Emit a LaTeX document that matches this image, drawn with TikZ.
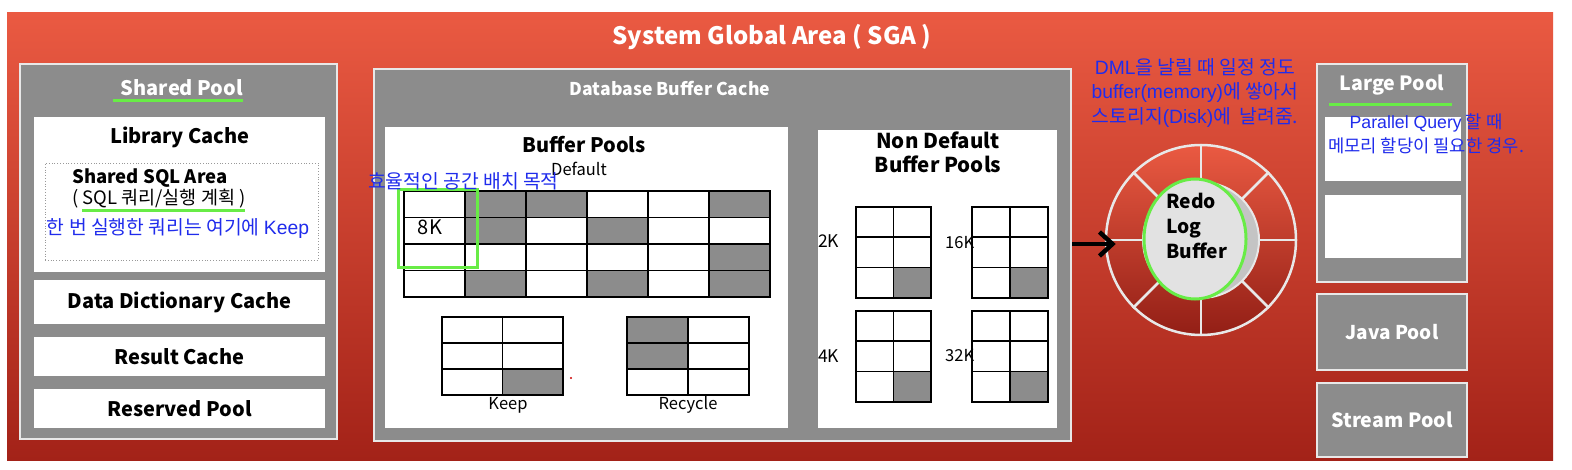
\documentclass[tikz,border=0pt]{standalone}
\usepackage{fontspec}
\setmainfont{Noto Sans CJK KR}
\newfontfamily\krfont{Noto Sans CJK KR}
\newfontfamily\latfont{Liberation Sans}
\usetikzlibrary{arrows.meta,positioning,shapes.geometric}

\definecolor{sgatop}{RGB}{234,90,66}
\definecolor{sgabottom}{RGB}{163,34,24}
\definecolor{poolgray}{RGB}{140,140,140}
\definecolor{rimwhite}{RGB}{232,232,232}
\definecolor{markgreen}{RGB}{104,236,70}
\definecolor{noteblue}{RGB}{32,44,236}
\definecolor{hubgray}{RGB}{196,196,196}
\definecolor{coregray}{RGB}{226,226,226}

\tikzset{
  sgabg/.style={top color=sgatop, bottom color=sgabottom, draw=none, inner sep=0pt},
  titlelabel/.style={text=white, font=\bfseries\fontsize{24}{27}\selectfont},
  poolbox/.style={fill=poolgray, draw=rimwhite, line width=2pt, inner sep=0pt},
  whitebox/.style={fill=white, draw=none, inner sep=0pt},
  boxlabel/.style={font=\bfseries\fontsize{20}{22}\selectfont, inner sep=1pt},
  poollabel/.style={boxlabel, text=white},
  smalllabel/.style={font=\fontsize{16.5}{18}\selectfont, inner sep=1pt},
  note/.style={text=noteblue, font=\krfont\fontsize{19.3}{24.5}\selectfont, align=center, inner sep=0pt},
  greenline/.style={draw=markgreen, line width=3pt},
  gridline/.style={draw=black, line width=1.6pt, line cap=rect},
  rimline/.style={draw=rimwhite, line width=2.5pt},
  bigarrow/.style={draw=black, line width=4.5pt, -{Straight Barb[length=13pt,width=24pt]}},
}

% grid of buffer cells: x0, y0, cols, rows, cell w, cell h, gray cells c/r
\newcommand\drawcells[7]{%
  \foreach \c/\r in {#7}
    \fill[poolgray] ({#1+\c*#5},{#2+\r*#6}) rectangle ++(#5,#6);
  \foreach \i in {0,...,#3}
    \draw[gridline] ({#1+\i*#5},#2) -- ++(0,{#4*#6});
  \foreach \j in {0,...,#4}
    \draw[gridline] (#1,{#2+\j*#6}) -- ++({#3*#5},0);
}

\begin{document}
\begin{tikzpicture}[x=1pt,y=-1pt]
\useasboundingbox (0,0) rectangle (1572,470);
\fill[white] (0,0) rectangle (1572,470);

% SGA
\node[sgabg, minimum width=1546pt, minimum height=447pt] (sga) at (780,236.5) {};
\node[titlelabel] (sgatitle) at (772,37) {System Global Area ( SGA )};

% Shared Pool
\node[poolbox, minimum width=317pt, minimum height=375pt] (shared) at (178.5,251.5) {};
\node[poollabel] (sharedlabel) at (182,88) {Shared Pool};
\draw[greenline] (113,101) -- (243,101);
\node[whitebox, minimum width=291pt, minimum height=155pt] (library) at (179.5,194.5) {};
\node[boxlabel] (librarylabel) at (180,137) {Library Cache};
\node[draw=gray!80, dotted, line width=0.8pt, minimum width=273pt, minimum height=97pt] (sqlarea) at (181.5,211.5) {};
\node[boxlabel, font=\bfseries\fontsize{18.5}{21}\selectfont, anchor=west] (sqllabel) at (71,178) {Shared SQL Area};
\node[smalllabel, font=\fontsize{18.5}{20}\selectfont, anchor=west] (sqlsub) at (71,199) {( SQL 쿼리/실행 계획 )};
\draw[greenline] (82,211) -- (245,211);
\node[note] (sqlnote) at (178,229) {한 번 실행한 쿼리는 여기에 {\latfont Keep}};
\node[whitebox, minimum width=291pt, minimum height=44pt] (dictionary) at (179.5,302) {};
\node[boxlabel] at (dictionary) {Data Dictionary Cache};
\node[whitebox, minimum width=291pt, minimum height=39pt] (result) at (179.5,356.5) {};
\node[boxlabel] at (result) {Result Cache};
\node[whitebox, minimum width=291pt, minimum height=39pt] (reserved) at (179.5,408.5) {};
\node[boxlabel] at (reserved) {Reserved Pool};

% Database Buffer Cache
\node[poolbox, minimum width=697pt, minimum height=372pt] (dbc) at (722.5,255) {};
\node[poollabel, font=\bfseries\fontsize{17.6}{20}\selectfont] (dbclabel) at (670,88) {Database Buffer Cache};
\node[whitebox, minimum width=403pt, minimum height=301pt] (bufpools) at (586.5,277.5) {};
\node[boxlabel] (bufpoolslabel) at (584,145) {Buffer Pools};
\node[smalllabel] (defaultlabel) at (579,169) {Default};
\drawcells{404}{191}{6}{4}{61}{26.5}{1/0,2/0,5/0,1/1,3/1,5/2,1/3,3/3,5/3}
\node[smalllabel, font=\fontsize{20}{22}\selectfont] (eightk) at (430,227) {8K};
\draw[greenline] (398,190) rectangle (477,268);
\node[note, anchor=west] (placenote) at (368,181) {효율적인 공간 배치 목적};
\drawcells{442}{317}{2}{3}{60.5}{26}{1/2}
\node[smalllabel] (keeplabel) at (508,405) {Keep};
\drawcells{627}{317}{2}{3}{61}{26}{0/0,0/1}
\node[smalllabel] (recyclelabel) at (688,405) {Recycle};
\fill[red!80!black] (571,378) circle (1.2pt);

% Non Default Buffer Pools
\node[whitebox, minimum width=239pt, minimum height=298pt] (nondefault) at (937.5,279) {};
\node[boxlabel, align=center, font=\bfseries\fontsize{20.5}{24}\selectfont] (nondefaultlabel) at (938,152) {Non Default\\Buffer Pools};
\drawcells{856}{207}{2}{3}{37.5}{30.3}{1/2}
\drawcells{972}{207}{2}{3}{38}{30.3}{1/2}
\drawcells{856}{311}{2}{3}{37.5}{30.3}{1/2}
\drawcells{972}{311}{2}{3}{38}{30.3}{1/2}
\node[smalllabel, font=\fontsize{17.5}{19}\selectfont, anchor=west, inner sep=0pt] (twok) at (818,241) {2K};
\node[smalllabel, anchor=west, inner sep=0pt] (sixteenk) at (945,243) {16K};
\node[smalllabel, font=\fontsize{17.5}{19}\selectfont, anchor=west, inner sep=0pt] (fourk) at (818,356) {4K};
\node[smalllabel, anchor=west, inner sep=0pt] (thirtytwok) at (945,356) {32K};

% Redo Log Buffer
\node[circle, minimum size=190pt, top color=sgatop, bottom color=sgabottom!90!black, draw=rimwhite, line width=2.5pt] (ring) at (1201,240) {};
\node[circle, minimum size=116pt, inner sep=0pt] (hubedge) at (1201,240) {};
\foreach \a in {0,45,...,315}
  \draw[rimline] (hubedge.\a) -- (ring.\a);
\node[circle, minimum size=116pt, fill=hubgray, draw=rimwhite, line width=2pt] (hub) at (1201,240) {};
\node[ellipse, minimum width=102pt, minimum height=120pt, fill=coregray, draw=markgreen, line width=3pt] (core) at (1195,239) {};
\node[boxlabel, align=left, font=\bfseries\fontsize{19.2}{25}\selectfont, anchor=west] (redolabel) at (1165,226) {Redo\\Log\\Buffer};
\node[note] (dmlnote) at (1195,93) {{\latfont DML}을 날릴 때 일정 정도\\{\latfont buffer(memory)}에 쌓아서\\스토리지{\latfont (Disk)}에\ \ 날려줌.};
\draw[bigarrow] ([yshift=11pt]dbc.east) -- ([xshift=11pt,yshift=-4pt]ring.west);

% Large / Java / Stream Pool
\node[poolbox, minimum width=150pt, minimum height=218pt] (large) at (1392,173) {};
\node[poollabel, font=\bfseries\fontsize{19.6}{22}\selectfont] (largelabel) at (1392,85) {Large Pool};
\draw[greenline] (1329,105) -- (1452,105);
\node[whitebox, minimum width=136pt, minimum height=64pt] (largeslot) at (1393,149) {};
\node[whitebox, minimum width=136pt, minimum height=63pt] (largeslotb) at (1393,226.5) {};
\node[note, font=\krfont\fontsize{17.7}{24}\selectfont] (parallelnote) at (1426,134) {{\latfont Parallel Query} 할 때\\메모리 할당이 필요한 경우.};
\node[poolbox, minimum width=150pt, minimum height=76pt] (java) at (1392,332) {};
\node[poollabel, font=\bfseries\fontsize{19}{22}\selectfont] at (java) {Java Pool};
\node[poolbox, minimum width=150pt, minimum height=74pt] (stream) at (1392,420) {};
\node[poollabel, font=\bfseries\fontsize{19.6}{22}\selectfont] at (stream) {Stream Pool};
\end{tikzpicture}
\end{document}
